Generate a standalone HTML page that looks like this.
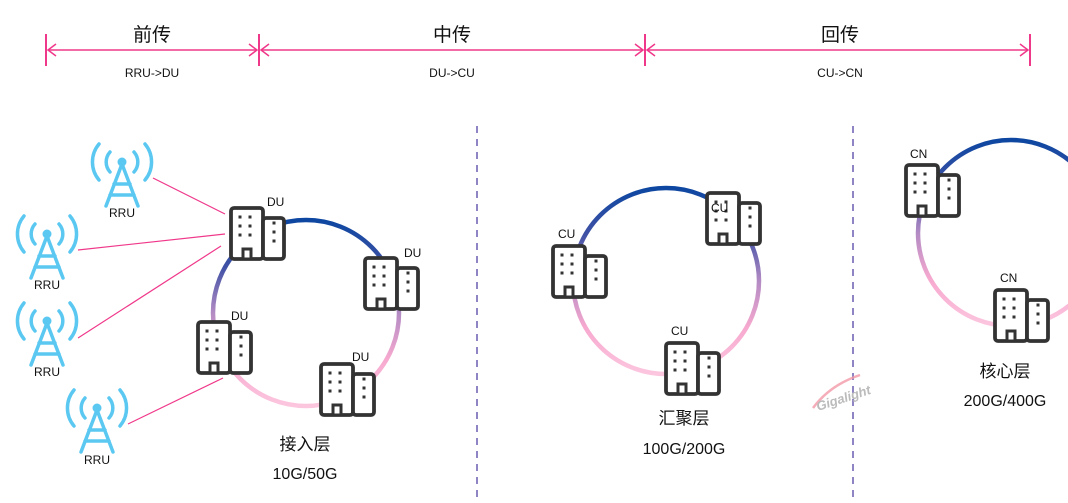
<!DOCTYPE html>
<html><head><meta charset="utf-8"><style>
html,body{margin:0;padding:0;background:#fff;}
svg{display:block;}
text{font-family:"Liberation Sans","Noto Sans CJK SC",sans-serif;}
</style></head><body>
<svg width="1068" height="503" viewBox="0 0 1068 503" xmlns="http://www.w3.org/2000/svg">
<defs>
<linearGradient id="rg" x1="0" y1="0" x2="0" y2="1">
<stop offset="0" stop-color="#0d47a1"/>
<stop offset="0.25" stop-color="#3f51a5"/>
<stop offset="0.5" stop-color="#b38bc4"/>
<stop offset="0.75" stop-color="#f7a9cf"/>
<stop offset="1" stop-color="#fcc6df"/>
</linearGradient>
<g id="bld">
<rect x="0" y="0" width="32" height="51" rx="3" fill="#fff" stroke="#333" stroke-width="3.8"/>
<rect x="32" y="10" width="21" height="41" rx="3" fill="#fff" stroke="#333" stroke-width="3.8"/>
<rect x="12" y="41" width="8" height="10" fill="#fff" stroke="#333" stroke-width="3"/>
<g fill="#333">
<rect x="7.5" y="7.5" width="3" height="3"/><rect x="17.5" y="7.5" width="3" height="3"/>
<rect x="7.5" y="16.5" width="3" height="3"/><rect x="17.5" y="16.5" width="3" height="3"/>
<rect x="7.5" y="25.5" width="3" height="3"/><rect x="17.5" y="25.5" width="3" height="3"/>
<rect x="41.5" y="13.5" width="3" height="3"/><rect x="41.5" y="22.5" width="3" height="3"/><rect x="41.5" y="31.5" width="3" height="3"/>
</g>
</g>
<g id="ant" fill="none" stroke="#5bc8f2" stroke-width="3.5" stroke-linecap="round">
<circle cx="0" cy="0" r="4.5" fill="#5bc8f2" stroke="none"/>
<path d="M0 2 L-16 44 M0 2 L16 44 M-8 22 L8 22 M-12 33 L12 33"/>
<path d="M-12 -10 A15 15 0 0 0 -12 10 M12 -10 A15 15 0 0 1 12 10"/>
<path d="M-23 -18 A28 28 0 0 0 -23 18 M23 -18 A28 28 0 0 1 23 18"/>
</g>
</defs>

<g stroke="#f0388a" stroke-width="1.5" fill="none">
<line x1="46" y1="34" x2="46" y2="66" stroke-width="2"/>
<line x1="259" y1="34" x2="259" y2="66" stroke-width="2"/>
<line x1="645" y1="34" x2="645" y2="66" stroke-width="2"/>
<line x1="1030" y1="34" x2="1030" y2="66" stroke-width="2"/>
<line x1="48" y1="50" x2="257" y2="50"/>
<line x1="261" y1="50" x2="643" y2="50"/>
<line x1="647" y1="50" x2="1028" y2="50"/>
<path d="M56 44 L48 50 L56 56 M249 44 L257 50 L249 56 M269 44 L261 50 L269 56 M635 44 L643 50 L635 56 M655 44 L647 50 L655 56 M1020 44 L1028 50 L1020 56"/>
</g>
<text x="152" y="41" font-size="19" text-anchor="middle" fill="#111">前传</text>
<text x="452" y="41" font-size="19" text-anchor="middle" fill="#111">中传</text>
<text x="840" y="41" font-size="19" text-anchor="middle" fill="#111">回传</text>
<text x="152" y="77" font-size="12" text-anchor="middle" fill="#111">RRU-&gt;DU</text>
<text x="452" y="77" font-size="12" text-anchor="middle" fill="#111">DU-&gt;CU</text>
<text x="840" y="77" font-size="12" text-anchor="middle" fill="#111">CU-&gt;CN</text>

<line x1="477" y1="126" x2="477" y2="503" stroke="#6a5bb0" stroke-width="1.5" stroke-dasharray="7 6"/>
<line x1="853" y1="126" x2="853" y2="503" stroke="#6a5bb0" stroke-width="1.5" stroke-dasharray="7 6"/>

<circle cx="306" cy="313" r="93" fill="none" stroke="url(#rg)" stroke-width="4.5"/>
<circle cx="666" cy="281" r="93" fill="none" stroke="url(#rg)" stroke-width="4.5"/>
<circle cx="1011" cy="233" r="93" fill="none" stroke="url(#rg)" stroke-width="4.5"/>

<g stroke="#f0388a" stroke-width="1.2">
<line x1="153" y1="178" x2="225" y2="214"/>
<line x1="78" y1="250" x2="225" y2="234"/>
<line x1="78" y1="338" x2="221" y2="246"/>
<line x1="128" y1="424" x2="223" y2="378"/>
</g>

<use href="#ant" x="122" y="162"/>
<use href="#ant" x="47" y="234"/>
<use href="#ant" x="47" y="321"/>
<use href="#ant" x="97" y="408"/>
<g font-size="12" text-anchor="middle" fill="#111">
<text x="122" y="217">RRU</text>
<text x="47" y="289">RRU</text>
<text x="47" y="376">RRU</text>
<text x="97" y="464">RRU</text>
</g>

<use href="#bld" x="231" y="208"/>
<use href="#bld" x="365" y="258"/>
<use href="#bld" x="198" y="322"/>
<use href="#bld" x="321" y="364"/>
<use href="#bld" x="553" y="246"/>
<use href="#bld" x="707" y="193"/>
<use href="#bld" x="666" y="343"/>
<use href="#bld" x="906" y="165"/>
<use href="#bld" x="995" y="290"/>
<g font-size="12" fill="#111">
<text x="267" y="206">DU</text>
<text x="404" y="257">DU</text>
<text x="231" y="320">DU</text>
<text x="352" y="361">DU</text>
<text x="558" y="238">CU</text>
<text x="711" y="212">CU</text>
<text x="671" y="335">CU</text>
<text x="910" y="158">CN</text>
<text x="1000" y="282">CN</text>
</g>

<g fill="#111" text-anchor="middle">
<text x="305" y="450" font-size="17">接入层</text>
<text x="305" y="479" font-size="16">10G/50G</text>
<text x="684" y="424" font-size="17">汇聚层</text>
<text x="684" y="454" font-size="16">100G/200G</text>
<text x="1005" y="377" font-size="17">核心层</text>
<text x="1005" y="406" font-size="16">200G/400G</text>
</g>

<path d="M813 408 Q830 385 860 375" fill="none" stroke="#f29aa8" stroke-width="2.5" opacity="0.8"/>
<text x="818" y="411" font-size="13" font-style="italic" font-weight="bold" fill="#bbb" transform="rotate(-18 818 411)">Gigalight</text>
</svg>
</body></html>
